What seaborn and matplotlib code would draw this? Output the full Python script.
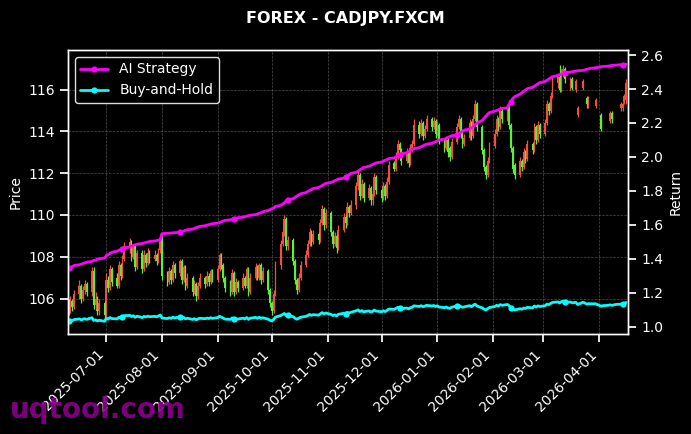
import matplotlib
matplotlib.use("Agg")
import matplotlib.pyplot as plt
import matplotlib.dates as mdates
import numpy as np
import pandas as pd
import seaborn as sns

nan = np.nan

# === Daily OHLC, one row per week (Mon-Fri) starting Tue 2025-06-10 ===
open_ = [
    105.9, 105.5, 105.9, 105.6,
    106.2, 106.6, 106.0, 106.4, 106.7,
    106.3, 107.3, 105.7, 106.0, 105.4,
    105.8, 105.2, 106.9, 106.5, 107.4,
    107.0, 106.6, 107.6, 107.1, 107.9,
    108.5, 108.7, 108.0, 108.5, 107.5,
    108.2, 107.4, 108.1, 107.7, 108.2,
    107.9, 108.1, 107.8, 108.3, 108.9,
    107.1, 106.8, 107.3, 106.9, 107.6,
    107.2, 107.8, 106.9, 107.5, 106.6,
    107.0, 106.3, 106.7, 106.1, 106.6,
    107.0, 106.7, 107.1, 106.8, 107.3,
    106.9, 107.4, 108.1, 107.6, 107.0,
    106.8, 106.3, 107.2, 106.3, 106.8,
    106.5, 107.0, 106.6, 107.4, 106.3,
    107.0, 107.5, 107.0, 107.6, 106.9,
    107.3, 106.4, 105.8, 105.4, 106.2,
    107.6, 108.6, 109.2, 109.8, 108.5,
    108.8, 107.8, 106.9, 106.4, 107.0,
    107.6, 108.1, 108.6, 109.2, 108.7,
    109.1, 108.8, 109.6, 110.3, 109.5,
    110.1, 109.2, 108.6, 109.0, 108.4,
    109.3, 109.9, 109.6, 110.4, 110.1,
    110.5, 111.4, 111.9, 110.9, 111.5,
    110.8, 111.3, 110.7, 111.0, 111.8,
    111.2, 110.8, 111.4, 110.9, 111.6,
    112.5, 112.2, 112.8, 113.4, 113.1,
    112.6, 113.0, 112.5, 113.2, 113.4,
    114.3, 113.9, 114.4, 113.8, 114.1,
    114.6, 114.2, 114.5, 113.9, 114.3,
    113.6, 113.2, 113.6, 113.2, 112.8,
    113.5, 114.2, 114.6, 113.9, 113.4,
    113.7, 114.4, 113.8, 114.6, 115.3,
    114.2, 113.1, 112.3, 111.9, 112.6,
    113.3, 113.9, 114.6, 114.2, 115.0,
    114.6, 115.1, 114.3, 113.2, 112.4,
    111.9, 112.6, 112.3, 113.0, 112.7,
    113.4, 113.1, 114.2, 113.6, 114.3,
    113.9, 114.4, 115.3, 115.0, 115.7,
    116.3, 116.6, 116.0, 116.8, 117.0,
    116.2, 116.5, nan, 116.0, 114.8,
    116.1, nan, 115.6, 115.2, nan,
    115.2, nan, nan, 114.8, nan,
    nan, 114.5, 114.9, nan, nan,
    115.1, 115.1, 115.4, 115.5,
]
high = [
    106.0, 106.1, 106.0, 106.4,
    106.9, 106.7, 106.6, 106.9, 106.8,
    107.5, 107.5, 106.3, 106.1, 106.0,
    105.9, 107.2, 107.1, 107.6, 107.5,
    107.2, 107.8, 107.7, 108.1, 108.7,
    108.9, 108.8, 108.6, 108.6, 108.3,
    108.3, 108.3, 108.2, 108.4, 108.3,
    108.3, 108.2, 108.4, 109.1, 109.0,
    107.3, 107.5, 107.4, 107.8, 107.7,
    107.9, 107.9, 107.6, 107.6, 107.2,
    107.1, 106.9, 106.8, 106.8, 107.2,
    107.1, 107.3, 107.2, 107.4, 107.4,
    107.6, 108.2, 108.2, 107.7, 107.1,
    106.9, 107.4, 107.3, 107.0, 106.9,
    107.2, 107.1, 107.5, 107.5, 107.2,
    107.7, 107.6, 107.7, 107.7, 107.5,
    107.4, 106.5, 105.9, 106.4, 107.8,
    108.8, 109.4, 110.0, 109.9, 109.0,
    108.9, 107.9, 107.0, 107.2, 107.8,
    108.3, 108.8, 109.4, 109.3, 109.3,
    109.2, 109.8, 110.5, 110.4, 110.3,
    110.2, 109.3, 109.2, 109.1, 109.5,
    110.1, 110.0, 110.6, 110.5, 110.7,
    111.6, 112.2, 112.0, 111.7, 111.6,
    111.5, 111.4, 111.2, 112.0, 111.9,
    111.3, 111.6, 111.5, 111.8, 112.6,
    112.6, 113.0, 113.6, 113.5, 113.2,
    113.2, 113.1, 113.4, 113.6, 114.6,
    114.5, 114.6, 114.5, 114.3, 114.8,
    114.7, 114.7, 114.6, 114.5, 114.4,
    113.7, 113.8, 113.7, 113.3, 113.7,
    114.4, 114.8, 114.7, 114.0, 113.9,
    114.6, 114.5, 114.8, 115.5, 115.4,
    114.3, 113.2, 112.4, 112.8, 113.5,
    114.1, 114.8, 114.7, 115.2, 115.1,
    115.3, 115.2, 114.4, 113.3, 112.5,
    112.8, 112.7, 113.2, 113.1, 113.6,
    113.5, 114.4, 114.3, 114.5, 114.4,
    114.6, 115.5, 115.4, 115.9, 116.6,
    116.8, 117.2, 117.0, 117.2, 117.1,
    116.6, 116.6, nan, 116.5, 115.2,
    116.5, nan, 115.7, 115.7, nan,
    115.6, nan, nan, 114.9, nan,
    nan, 115.0, 115.0, nan, nan,
    115.4, 115.4, 115.8, 116.5,
]
low = [
    105.2, 105.3, 105.4, 105.5,
    106.0, 105.8, 105.9, 106.2, 106.1,
    106.1, 105.5, 105.5, 105.2, 105.2,
    104.9, 105.1, 106.3, 106.4, 106.6,
    106.5, 106.5, 106.9, 107.0, 107.8,
    108.2, 107.8, 107.9, 107.3, 107.4,
    107.2, 107.3, 107.5, 107.6, 107.7,
    107.8, 107.6, 107.7, 108.2, 106.9,
    106.6, 106.7, 106.7, 106.8, 107.0,
    107.1, 106.7, 106.8, 106.4, 106.5,
    106.1, 106.2, 105.9, 106.0, 106.5,
    106.5, 106.6, 106.6, 106.7, 106.8,
    106.8, 107.3, 107.4, 106.8, 106.3,
    106.1, 106.2, 106.1, 106.2, 106.3,
    106.4, 106.5, 106.5, 106.1, 106.2,
    106.9, 106.9, 106.9, 106.7, 106.8,
    106.2, 105.6, 105.2, 105.3, 106.1,
    107.4, 108.5, 109.0, 108.3, 108.3,
    107.6, 106.7, 106.2, 106.3, 106.9,
    107.5, 108.0, 108.5, 108.5, 108.6,
    108.6, 108.7, 109.5, 109.3, 109.4,
    109.0, 108.4, 108.5, 108.2, 108.3,
    109.2, 109.4, 109.5, 109.9, 110.0,
    110.3, 111.2, 110.7, 110.8, 110.6,
    110.7, 110.5, 110.5, 110.9, 111.0,
    110.6, 110.7, 110.7, 110.8, 111.5,
    112.1, 112.1, 112.7, 112.9, 112.4,
    112.5, 112.3, 112.4, 113.0, 113.3,
    113.7, 113.8, 113.6, 113.7, 114.0,
    114.0, 114.1, 113.7, 113.8, 113.4,
    113.0, 113.1, 112.8, 112.6, 112.7,
    113.4, 114.1, 113.7, 113.2, 113.3,
    113.6, 113.6, 113.7, 114.5, 114.0,
    112.9, 112.1, 111.7, 111.8, 112.5,
    113.2, 113.8, 114.0, 114.1, 114.4,
    114.5, 114.1, 113.0, 112.0, 111.7,
    111.8, 112.1, 112.2, 112.5, 112.6,
    112.9, 113.0, 113.4, 113.5, 113.7,
    113.8, 114.3, 114.8, 114.9, 115.6,
    116.1, 115.9, 115.9, 116.6, 116.3,
    116.0, 116.0, nan, 115.9, 114.7,
    116.0, nan, 115.1, 115.1, nan,
    115.1, nan, nan, 114.0, nan,
    nan, 114.4, 114.4, nan, nan,
    115.0, 115.0, 115.3, 115.3,
]
close_ = [
    105.5, 105.9, 105.6, 106.2,
    106.6, 106.0, 106.4, 106.7, 106.3,
    107.3, 105.7, 106.0, 105.4, 105.8,
    105.2, 106.9, 106.5, 107.4, 106.8,
    106.6, 107.6, 107.1, 107.9, 108.5,
    108.7, 108.0, 108.5, 107.5, 108.2,
    107.4, 108.1, 107.7, 108.2, 107.9,
    108.1, 107.8, 108.3, 108.9, 107.1,
    106.8, 107.3, 106.9, 107.6, 107.2,
    107.8, 106.9, 107.5, 106.6, 107.0,
    106.3, 106.7, 106.1, 106.6, 107.0,
    106.7, 107.1, 106.8, 107.3, 106.9,
    107.4, 108.1, 107.6, 107.0, 106.5,
    106.3, 107.2, 106.3, 106.8, 106.5,
    107.0, 106.6, 107.4, 106.3, 107.0,
    107.5, 107.0, 107.6, 106.9, 107.3,
    106.4, 105.8, 105.4, 106.2, 107.6,
    108.6, 109.2, 109.8, 108.5, 108.8,
    107.8, 106.9, 106.4, 107.0, 107.6,
    108.1, 108.6, 109.2, 108.7, 109.1,
    108.8, 109.6, 110.3, 109.5, 110.1,
    109.2, 108.6, 109.0, 108.4, 109.3,
    109.9, 109.6, 110.4, 110.1, 110.5,
    111.4, 111.9, 110.9, 111.5, 110.8,
    111.3, 110.7, 111.0, 111.8, 111.2,
    110.8, 111.4, 110.9, 111.6, 112.4,
    112.2, 112.8, 113.4, 113.1, 112.6,
    113.0, 112.5, 113.2, 113.4, 114.3,
    113.9, 114.4, 113.8, 114.1, 114.6,
    114.2, 114.5, 113.9, 114.3, 113.6,
    113.2, 113.6, 113.0, 112.8, 113.5,
    114.2, 114.6, 113.9, 113.4, 113.7,
    114.4, 113.8, 114.6, 115.3, 114.2,
    113.1, 112.3, 111.9, 112.6, 113.3,
    113.9, 114.6, 114.2, 115.0, 114.6,
    115.1, 114.3, 113.2, 112.2, 111.9,
    112.6, 112.3, 113.0, 112.7, 113.4,
    113.1, 114.2, 113.6, 114.3, 113.9,
    114.4, 115.3, 115.0, 115.7, 116.3,
    116.6, 116.0, 116.8, 117.0, 116.5,
    116.5, 116.1, nan, 116.4, 115.1,
    116.4, nan, 115.3, 115.6, nan,
    115.5, nan, nan, 114.1, nan,
    nan, 114.9, 114.6, nan, nan,
    115.3, 115.3, 115.7, 116.3,
]

# === Cumulative returns (right axis) ===
ai_ret = [
    1.345, 1.350, 1.353, 1.360,
    1.365, 1.368, 1.372, 1.376, 1.380,
    1.385, 1.390, 1.392, 1.398, 1.400,
    1.405, 1.418, 1.425, 1.432, 1.438,
    1.445, 1.450, 1.455, 1.460, 1.465,
    1.470, 1.474, 1.478, 1.482, 1.486,
    1.490, 1.493, 1.496, 1.499, 1.502,
    1.505, 1.507, 1.510, 1.512, 1.548,
    1.550, 1.551, 1.552, 1.553, 1.554,
    1.556, 1.560, 1.563, 1.568, 1.571,
    1.575, 1.579, 1.583, 1.587, 1.591,
    1.595, 1.598, 1.601, 1.604, 1.607,
    1.610, 1.614, 1.618, 1.622, 1.626,
    1.630, 1.633, 1.636, 1.639, 1.642,
    1.645, 1.648, 1.651, 1.654, 1.657,
    1.660, 1.664, 1.668, 1.672, 1.677,
    1.685, 1.690, 1.695, 1.700, 1.708,
    1.715, 1.722, 1.730, 1.742, 1.748,
    1.755, 1.763, 1.770, 1.776, 1.783,
    1.790, 1.796, 1.802, 1.808, 1.814,
    1.820, 1.826, 1.832, 1.838, 1.844,
    1.850, 1.855, 1.860, 1.865, 1.870,
    1.875, 1.882, 1.889, 1.896, 1.903,
    1.910, 1.917, 1.924, 1.931, 1.938,
    1.945, 1.950, 1.955, 1.960, 1.965,
    1.970, 1.975, 1.980, 1.985, 1.990,
    1.995, 2.001, 2.007, 2.013, 2.019,
    2.025, 2.031, 2.037, 2.043, 2.049,
    2.055, 2.060, 2.065, 2.070, 2.075,
    2.080, 2.085, 2.090, 2.095, 2.100,
    2.105, 2.110, 2.115, 2.120, 2.125,
    2.130, 2.137, 2.144, 2.151, 2.158,
    2.165, 2.172, 2.180, 2.188, 2.200,
    2.215, 2.228, 2.240, 2.252, 2.262,
    2.270, 2.274, 2.278, 2.282, 2.286,
    2.290, 2.305, 2.325, 2.345, 2.355,
    2.370, 2.378, 2.386, 2.394, 2.402,
    2.410, 2.417, 2.424, 2.431, 2.438,
    2.445, 2.452, 2.459, 2.466, 2.473,
    2.480, 2.484, 2.488, 2.492, 2.496,
    2.500, 2.502, 2.504, 2.506, 2.508,
    2.510, 2.513, 2.516, 2.519, 2.522,
    2.525, 2.527, 2.529, 2.531, 2.533,
    2.535, 2.537, 2.539, 2.540, 2.541,
    2.543, 2.544, 2.545, 2.546,
]
bh_ret = [
    1.035, 1.039, 1.036, 1.042,
    1.046, 1.040, 1.044, 1.047, 1.043,
    1.053, 1.037, 1.040, 1.034, 1.038,
    1.032, 1.049, 1.045, 1.054, 1.048,
    1.046, 1.056, 1.051, 1.059, 1.065,
    1.067, 1.060, 1.065, 1.055, 1.062,
    1.054, 1.061, 1.057, 1.062, 1.059,
    1.061, 1.058, 1.063, 1.069, 1.051,
    1.048, 1.053, 1.049, 1.056, 1.052,
    1.058, 1.049, 1.055, 1.046, 1.050,
    1.043, 1.047, 1.041, 1.046, 1.050,
    1.047, 1.051, 1.048, 1.053, 1.049,
    1.054, 1.061, 1.056, 1.050, 1.045,
    1.043, 1.052, 1.043, 1.048, 1.045,
    1.050, 1.046, 1.054, 1.043, 1.050,
    1.055, 1.050, 1.056, 1.049, 1.053,
    1.044, 1.038, 1.034, 1.042, 1.056,
    1.066, 1.072, 1.078, 1.065, 1.068,
    1.058, 1.049, 1.044, 1.050, 1.056,
    1.061, 1.066, 1.072, 1.067, 1.071,
    1.068, 1.076, 1.083, 1.075, 1.081,
    1.072, 1.066, 1.070, 1.064, 1.073,
    1.079, 1.076, 1.084, 1.081, 1.085,
    1.094, 1.099, 1.089, 1.095, 1.088,
    1.093, 1.087, 1.090, 1.098, 1.092,
    1.088, 1.094, 1.089, 1.096, 1.104,
    1.102, 1.108, 1.114, 1.111, 1.106,
    1.110, 1.105, 1.112, 1.114, 1.123,
    1.119, 1.124, 1.118, 1.121, 1.126,
    1.122, 1.125, 1.119, 1.123, 1.116,
    1.112, 1.116, 1.110, 1.108, 1.115,
    1.122, 1.126, 1.119, 1.114, 1.117,
    1.124, 1.118, 1.126, 1.133, 1.122,
    1.111, 1.103, 1.099, 1.106, 1.113,
    1.119, 1.126, 1.122, 1.130, 1.126,
    1.131, 1.123, 1.112, 1.102, 1.099,
    1.106, 1.103, 1.110, 1.107, 1.114,
    1.111, 1.122, 1.116, 1.123, 1.119,
    1.124, 1.133, 1.130, 1.137, 1.143,
    1.146, 1.140, 1.148, 1.150, 1.145,
    1.145, 1.141, 1.142, 1.144, 1.131,
    1.144, 1.140, 1.133, 1.136, 1.135,
    1.135, 1.130, 1.126, 1.121, 1.124,
    1.126, 1.129, 1.126, 1.128, 1.131,
    1.133, 1.133, 1.137, 1.143,
]

title = "FOREX - CADJPY.FXCM"
up_color = "#f0503c"     # red = up
down_color = "#5cf03a"   # green = down

# === Style ===
sns.set_theme(style="dark", rc={
    "figure.facecolor": "black",
    "axes.facecolor": "black",
    "axes.edgecolor": "white",
    "axes.labelcolor": "white",
    "text.color": "white",
    "xtick.color": "white",
    "ytick.color": "white",
    "xtick.bottom": True,
    "ytick.left": True,
    "xtick.labelsize": 10,
    "ytick.labelsize": 10,
    "axes.labelsize": 10,
    "legend.fontsize": 10,
})
plt.rcParams["font.family"] = ["DejaVu Sans"]

dates = pd.bdate_range("2025-06-10", periods=len(close_))
o = np.array(open_)
h = np.array(high)
l = np.array(low)
c = np.array(close_)
ok = ~np.isnan(c)
xd = mdates.date2num(dates.to_pydatetime())

fig = plt.figure(figsize=(6.91, 4.34), dpi=100)
ax = fig.add_axes([0.0984, 0.2304, 0.8104, 0.6544])

# === Candles ===
cols = np.where(c >= o, up_color, down_color)
ax.vlines(xd[ok], l[ok], h[ok], colors=cols[ok], lw=0.9)
body = np.where(np.abs(c - o) < 0.08, 0.08, c - o)
ax.bar(xd[ok], body[ok], bottom=o[ok], width=1.0, color=cols[ok], linewidth=0)
ax.set_ylim(104.3, 117.9)
ax.set_ylabel("Price")
ax.grid(True, color="gray", linestyle="--", linewidth=0.5, alpha=0.6)

# === Returns on twin axis ===
ax2 = ax.twinx()
ret = pd.DataFrame({"date": xd, "AI Strategy": ai_ret, "Buy-and-Hold": bh_ret})
sns.lineplot(data=ret, x="date", y="AI Strategy", ax=ax2, color="#ff00ff", lw=2,
             marker="o", markersize=4.5, markeredgewidth=0, markevery=22, label="AI Strategy")
sns.lineplot(data=ret, x="date", y="Buy-and-Hold", ax=ax2, color="#00ffff", lw=2,
             marker="o", markersize=4.5, markeredgewidth=0, markevery=22, label="Buy-and-Hold")
ax2.set_ylim(0.957, 2.63)
ax2.set_ylabel("Return")
ax2.set_xlabel("")
ax2.tick_params(right=True, colors="white")
ax2.grid(False)
leg = ax2.legend(loc="upper left", facecolor="black", edgecolor="#dddddd", framealpha=1)
for t in leg.get_texts():
    t.set_color("white")

for a in (ax, ax2):
    for s in a.spines.values():
        s.set_color("white")
        s.set_linewidth(1)

ax.set_xlim(xd[0] - 0.3, xd[-1] + 1)
ax.xaxis.set_major_locator(mdates.MonthLocator())
ax.xaxis.set_major_formatter(mdates.DateFormatter("%Y-%m-%d"))
plt.setp(ax.get_xticklabels(), rotation=45, ha="right")
ax.set_xlabel("")

fig.text(0.5, 1 - 18 / 434, title, ha="center", va="center",
         fontsize=11.5, fontweight="bold", color="white")
fig.text(0.014, 1 - 418 / 434, "uqtool.com", ha="left", va="baseline",
         fontsize=20, fontweight="bold", color="#8b008b", alpha=0.9)

fig.savefig("out.png", dpi=100, facecolor="black")
